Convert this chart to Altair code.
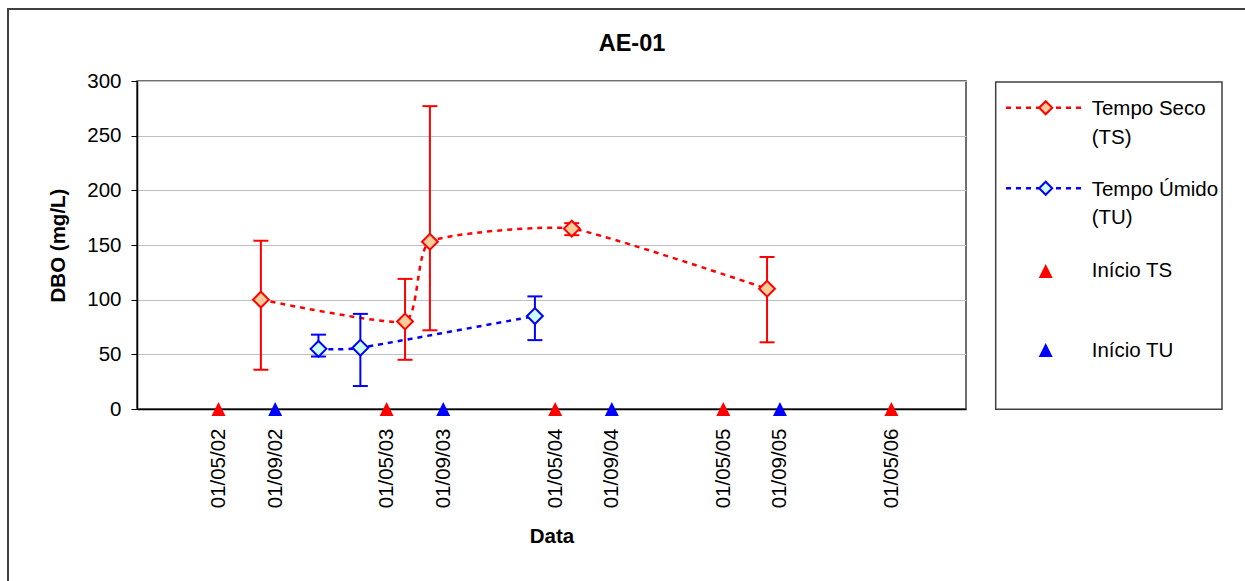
import altair as alt
import pandas as pd

# Tempo Seco (TS) campaigns: sampling date, mean DBO and error-bar limits (mg/L)
ts_datas = ["2002-08-01", "2003-06-10", "2003-08-03", "2004-06-06", "2005-08-04"]
ts_dbo = [100, 80, 153, 165, 110]
ts_min = [36, 45, 72, 159, 61]
ts_max = [154, 119, 277, 170, 139]

# Tempo Úmido (TU) campaigns
tu_datas = ["2002-12-04", "2003-03-05", "2004-03-18"]
tu_dbo = [55, 56, 85]
tu_min = [48, 21, 63]
tu_max = [68, 87, 103]

# Start of each season, marked on the time axis
inicio_ts = ["2002-05-01", "2003-05-01", "2004-05-01", "2005-05-01", "2006-05-01"]
inicio_tu = ["2002-09-01", "2003-09-01", "2004-09-01", "2005-09-01"]

# Texts
titulo = "AE-01"
leg_ts = ["Tempo Seco", "(TS)"]
leg_tu = ["Tempo Úmido", "(TU)"]
leg_its = "Início TS"
leg_itu = "Início TU"

RED, BLUE = "#FF0000", "#0000FF"
TS_FILL, TU_FILL = "#FFCC99", "#CCFFFF"
FONT = "Liberation Sans"
FS = 20.5
TRI = "M0,-1L1,1L-1,1Z"


def dt(s):
    return alt.DateTime(year=int(s[:4]), month=int(s[5:7]), date=int(s[8:10]), utc=True)


ts = pd.DataFrame({"data": ts_datas, "dbo": ts_dbo, "min": ts_min, "max": ts_max})
tu = pd.DataFrame({"data": tu_datas, "dbo": tu_dbo, "min": tu_min, "max": tu_max})
its = pd.DataFrame({"data": inicio_ts})
itu = pd.DataFrame({"data": inicio_tu})
one = pd.DataFrame({"k": [0]})

x_scale = alt.Scale(type="utc", domain=[dt("2001-11-05"), dt("2006-10-10")])
x_axis = alt.Axis(
    values=[dt(s) for s in sorted(inicio_ts + inicio_tu)],
    format="%d/%m/%y",
    labelAngle=270,
    ticks=False,
    tickSize=0,
    labelPadding=19,
    labelFlush=False,
    labelOverlap=False,
    grid=False,
    domainColor="black",
    domainWidth=1.5,
    labelFontSize=FS,
    labelColor="black",
    title="Data",
    titleFontSize=FS,
    titleFontWeight="bold",
    titleColor="black",
    titlePadding=19,
)
y_scale = alt.Scale(domain=[0, 300], nice=False, zero=True)
y_axis = alt.Axis(
    values=[0, 50, 100, 150, 200, 250, 300],
    tickSize=6,
    tickColor="black",
    tickWidth=1,
    labelPadding=10,
    labelFontSize=FS,
    labelColor="black",
    domainColor="black",
    domainWidth=1.5,
    grid=True,
    gridColor="#C0C0C0",
    gridWidth=1,
    title="DBO (mg/L)",
    titleFontSize=FS,
    titleFontWeight="bold",
    titleColor="black",
    titlePadding=18,
)

X = alt.X("data:T", scale=x_scale, axis=x_axis)


def Y(field):
    return alt.Y(field, scale=y_scale, axis=y_axis)


def series(df, color, fill):
    line = alt.Chart(df).mark_line(
        color=color, strokeWidth=2.5, strokeDash=[5, 5], interpolate="cardinal", tension=0.5
    ).encode(x=X, y=Y("dbo:Q"))
    bars = alt.Chart(df).mark_rule(color=color, strokeWidth=2).encode(
        x=X, y=Y("min:Q"), y2="max:Q"
    )
    cap_hi = alt.Chart(df).mark_tick(
        color=color, orient="horizontal", size=15, thickness=2, opacity=1
    ).encode(x=X, y=Y("max:Q"))
    cap_lo = alt.Chart(df).mark_tick(
        color=color, orient="horizontal", size=15, thickness=2, opacity=1
    ).encode(x=X, y=Y("min:Q"))
    pts = alt.Chart(df).mark_point(
        shape="diamond", filled=True, fill=fill, stroke=color, strokeWidth=2,
        size=250, opacity=1
    ).encode(x=X, y=Y("dbo:Q"))
    return [line, bars, cap_hi, cap_lo, pts]


def starts(df, color):
    return alt.Chart(df).mark_point(
        shape=TRI, filled=True, color=color, size=196, opacity=1, strokeWidth=0
    ).encode(x=X, y=alt.Y(datum=0, scale=y_scale, axis=y_axis))


# Legend drawn to the right of the plot area
def leg_line(y, color, fill):
    ln = alt.Chart(one).mark_rule(color=color, strokeWidth=2.5, strokeDash=[5, 5]).encode(
        x=alt.value(869), x2=alt.value(945), y=alt.value(y)
    )
    mk = alt.Chart(one).mark_point(
        shape="diamond", filled=True, fill=fill, stroke=color, strokeWidth=2,
        size=170, opacity=1
    ).encode(x=alt.value(908.7), y=alt.value(y))
    return [ln, mk]


def leg_tri(y, color):
    return alt.Chart(one).mark_point(
        shape=TRI, filled=True, color=color, size=196, opacity=1, strokeWidth=0
    ).encode(x=alt.value(908.7), y=alt.value(y))


def leg_text(y, txt):
    return alt.Chart(one).mark_text(
        align="left", baseline="alphabetic", fontSize=FS, font=FONT,
        lineHeight=28.5, color="black"
    ).encode(x=alt.value(954.7), y=alt.value(y), text=alt.value(txt))


leg_box = alt.Chart(one).mark_rect(
    fill="white", stroke="#404040", strokeWidth=1.5
).encode(x=alt.value(858.7), x2=alt.value(1085), y=alt.value(1), y2=alt.value(328.3))

# Chart title and outer chart border
title = alt.Chart(one).mark_text(
    align="center", baseline="alphabetic", fontSize=23.5, fontWeight="bold",
    font=FONT, color="black"
).encode(x=alt.value(495), y=alt.value(-30.3), text=alt.value(titulo))

frame = alt.Chart(one).mark_rect(
    fill=None, stroke="#404040", strokeWidth=2
).encode(x=alt.value(-129), x2=alt.value(1300), y=alt.value(-72), y2=alt.value(700))

layers = (
    series(ts, RED, TS_FILL)
    + series(tu, BLUE, TU_FILL)
    + [starts(its, RED), starts(itu, BLUE)]
    + [leg_box]
    + leg_line(26.7, RED, TS_FILL) + [leg_text(34, leg_ts)]
    + leg_line(107.3, BLUE, TU_FILL) + [leg_text(114.7, leg_tu)]
    + [leg_tri(190, RED), leg_text(196, leg_its)]
    + [leg_tri(269, BLUE), leg_text(276, leg_itu)]
    + [title, frame]
)

chart = alt.layer(*layers).properties(
    width=829,
    height=328,
    autosize=alt.AutoSizeParams(type="none"),
    padding={"left": 137, "top": 81, "right": 279, "bottom": 172},
    background="white",
).configure(font=FONT).configure_view(stroke="#404040", strokeWidth=1.5)

chart.save("out.html", embed_options={"renderer": "svg", "actions": False})
